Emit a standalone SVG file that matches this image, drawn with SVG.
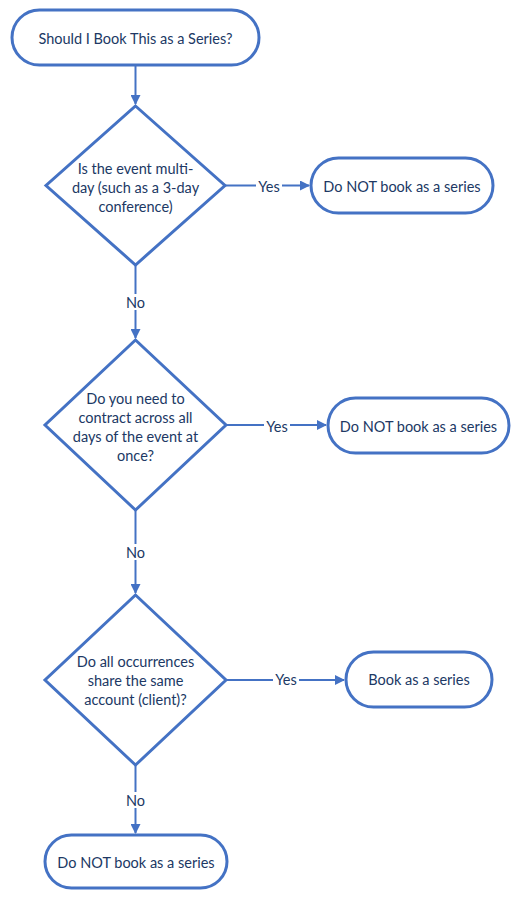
<svg xmlns="http://www.w3.org/2000/svg" width="520" height="902" viewBox="0 0 520 902">
<style>
.shape{fill:#ffffff;stroke:#4472c4;stroke-width:3}
.t{font-family:Lato,"Liberation Sans",sans-serif;font-size:14.5px;fill:#203864;text-anchor:middle;dominant-baseline:central}
.c{fill:none;stroke:#4472c4;stroke-width:2}
.lbl{font-family:Lato,"Liberation Sans",sans-serif;font-size:14.5px;fill:#203864;text-anchor:middle;dominant-baseline:central}
.lblbg{fill:#ffffff}
</style>
<defs>
<marker id="arr" markerWidth="10" markerHeight="10" refX="9" refY="5" orient="auto" markerUnits="userSpaceOnUse">
<path d="M0,0 L10,5 L0,10 Z" fill="#4472c4"/>
</marker>
</defs>
<rect width="520" height="902" fill="#ffffff"/>
<g id="connectors">
<path class="c" d="M135.5,65 V104" marker-end="url(#arr)"/>
<path class="c" d="M225,185.5 H309" marker-end="url(#arr)"/>
<path class="c" d="M135.5,265 V338" marker-end="url(#arr)"/>
<path class="c" d="M226,425 H326" marker-end="url(#arr)"/>
<path class="c" d="M135.5,510 V593" marker-end="url(#arr)"/>
<path class="c" d="M226,680 H344" marker-end="url(#arr)"/>
<path class="c" d="M135.5,765 V833" marker-end="url(#arr)"/>
<rect class="lblbg" x="256" y="178" width="26" height="15"/>
<text class="lbl" x="269" y="186">Yes</text>
<rect class="lblbg" x="124" y="294" width="23" height="16"/>
<text class="lbl" x="135.5" y="302">No</text>
<rect class="lblbg" x="264" y="418" width="26" height="15"/>
<text class="lbl" x="277" y="426">Yes</text>
<rect class="lblbg" x="124" y="544" width="23" height="16"/>
<text class="lbl" x="135.5" y="552">No</text>
<rect class="lblbg" x="273" y="672" width="26" height="15"/>
<text class="lbl" x="286" y="679">Yes</text>
<rect class="lblbg" x="124" y="792" width="23" height="16"/>
<text class="lbl" x="135.5" y="800">No</text>
</g>
<g id="start">
<rect class="shape" x="12" y="10" width="247" height="55" rx="27.5"/>
<text class="t" x="135.5" y="38">Should I Book This as a Series?</text>
</g>
<g id="q1">
<polygon class="shape" points="135.5,106 225,185.5 135.5,265 46,185.5"/>
<text class="t" x="135.5" y="168">Is the event multi-</text>
<text class="t" x="135.5" y="187">day (such as a 3-day</text>
<text class="t" x="135.5" y="206">conference)</text>
</g>
<g id="r1">
<rect class="shape" x="311" y="158" width="182" height="55" rx="27.5"/>
<text class="t" x="402" y="186">Do NOT book as a series</text>
</g>
<g id="q2">
<polygon class="shape" points="135.5,340 226,425 135.5,510 45,425"/>
<text class="t" x="135.5" y="398">Do you need to</text>
<text class="t" x="135.5" y="417">contract across all</text>
<text class="t" x="135.5" y="436">days of the event at</text>
<text class="t" x="135.5" y="455">once?</text>
</g>
<g id="r2">
<rect class="shape" x="328" y="398" width="181" height="55" rx="27.5"/>
<text class="t" x="418.5" y="426">Do NOT book as a series</text>
</g>
<g id="q3">
<polygon class="shape" points="135.5,595 226,680 135.5,765 45,680"/>
<text class="t" x="135.5" y="661">Do all occurrences</text>
<text class="t" x="135.5" y="680">share the same</text>
<text class="t" x="135.5" y="699">account (client)?</text>
</g>
<g id="r3">
<rect class="shape" x="346" y="652" width="146" height="55" rx="27.5"/>
<text class="t" x="419" y="679">Book as a series</text>
</g>
<g id="r4">
<rect class="shape" x="45" y="835" width="182" height="53" rx="26.5"/>
<text class="t" x="136" y="862">Do NOT book as a series</text>
</g>
</svg>
